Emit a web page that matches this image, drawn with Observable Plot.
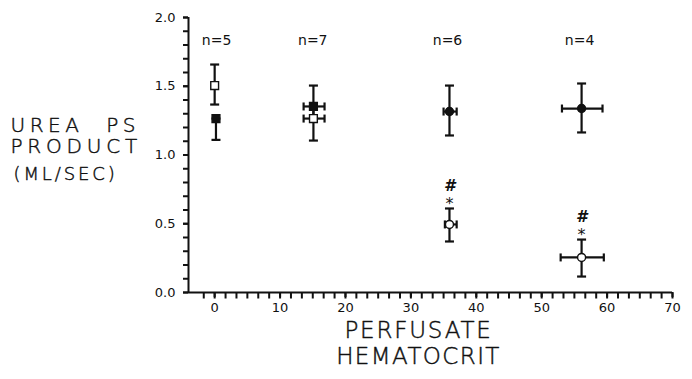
<!DOCTYPE html>
<html>
<head>
<meta charset="utf-8">
<script src="https://cdn.jsdelivr.net/npm/d3@7"></script>
<script src="https://cdn.jsdelivr.net/npm/@observablehq/plot@0.6"></script>
<style>
  html, body { margin: 0; padding: 0; background: #fff; }
  #chart svg { display: block; }
</style>
</head>
<body>
<div id="chart"></div>
<script>
// ---- data ----
const hct      = [0,     0.2,   15.1,  15.1,  35.9,  35.9,  56.1,  56.1];
const hctLow   = [0,     0.2,   13.6,  13.6,  35.0,  35.2,  53.1,  52.9];
const hctHigh  = [0,     0.2,   16.8,  16.8,  37.0,  37.0,  59.3,  59.5];
const ps       = [1.505, 1.265, 1.353, 1.265, 1.316, 0.495, 1.338, 0.255];
const psLow    = [1.367, 1.11,  1.265, 1.105, 1.142, 0.371, 1.164, 0.116];
const psHigh   = [1.658, 1.265, 1.505, 1.353, 1.505, 0.611, 1.52,  0.385];
const filled   = [false, true,  true,  false, true,  false, true,  false];
const shape    = ["square","square","square","square","circle","circle","circle","circle"];
const signif   = [false, false, false, false, false, true,  false, true];

const groupHct  = [0.3, 15, 35.6, 55.8];
const groupN    = ["n=5", "n=7", "n=6", "n=4"];

const xMajorTicks = [0, 10, 20, 30, 40, 50, 60, 70];
const yMajorTicks = [0, 0.5, 1.0, 1.5, 2.0];
const yTitle = ["UREA PS", "PRODUCT", "(ML/SEC)"];
const xTitle = ["PERFUSATE", "HEMATOCRIT"];

const rows = hct.map((x, i) => ({
  x, xlo: hctLow[i], xhi: hctHigh[i],
  y: ps[i], ylo: psLow[i], yhi: psHigh[i],
  filled: filled[i], shape: shape[i], sig: signif[i]
}));
const groups = groupHct.map((x, i) => ({x, label: groupN[i]}));

const xMinor = d3.range(-10/6, 70.001, 10/6);
const yMinor = d3.range(0, 2.0001, 0.1);

const hCap = {draw(ctx, size) { const r = Math.sqrt(size / Math.PI); ctx.moveTo(-r, 0); ctx.lineTo(r, 0); }};
const vCap = {draw(ctx, size) { const r = Math.sqrt(size / Math.PI); ctx.moveTo(0, -r); ctx.lineTo(0, r); }};

const ink = "#111";
const lightFont = "'DejaVu Sans ExtraLight', 'DejaVu Sans', sans-serif";
const sw = 2.2;
const titleStyle = {fill: ink, stroke: ink, strokeWidth: 0.45, fontFamily: lightFont, fontWeight: 200, lineAnchor: "middle"};

const hbars = rows.filter(d => d.xhi > d.xlo);

const chart = Plot.plot({
  width: 692,
  height: 379,
  marginLeft: 188,
  marginRight: 20,
  marginTop: 17,
  marginBottom: 87,
  style: {fontFamily: "'DejaVu Sans', sans-serif", fontSize: "13px", color: ink, background: "#fff"},
  x: {type: "linear", domain: [-4, 70], axis: null},
  y: {type: "linear", domain: [0, 2], axis: null},
  marks: [
    // axes
    Plot.ruleX([-4], {stroke: ink, strokeWidth: 2}),
    Plot.ruleY([0], {stroke: ink, strokeWidth: 2}),
    Plot.dot(xMinor, {x: d => d, frameAnchor: "bottom", dy: 3, symbol: vCap, r: 3, stroke: ink, strokeWidth: 2, fill: "none"}),
    Plot.axisX({ticks: xMajorTicks, anchor: "bottom", tickSize: 5, tickPadding: 5, strokeWidth: 2, stroke: ink, fill: ink, fontSize: 13, tickFormat: d3.format("d")}),
    Plot.axisY({ticks: yMinor, anchor: "left", tickSize: 5, text: null, strokeWidth: 2, stroke: ink}),
    Plot.axisY({ticks: yMajorTicks, anchor: "left", tickSize: 5, tickPadding: 8, strokeWidth: 2, stroke: ink, fill: ink, fontSize: 13, tickFormat: d3.format(".1f")}),

    // vertical error bars + caps
    Plot.ruleX(rows, {x: "x", y1: "ylo", y2: "yhi", stroke: ink, strokeWidth: sw}),
    Plot.dot(rows, {x: "x", y: "ylo", symbol: hCap, r: 4.5, stroke: ink, strokeWidth: sw, fill: "none"}),
    Plot.dot(rows, {x: "x", y: "yhi", symbol: hCap, r: 4.5, stroke: ink, strokeWidth: sw, fill: "none"}),
    // horizontal error bars + caps
    Plot.ruleY(hbars, {y: "y", x1: "xlo", x2: "xhi", stroke: ink, strokeWidth: sw}),
    Plot.dot(hbars, {x: "xlo", y: "y", symbol: vCap, r: 4, stroke: ink, strokeWidth: sw, fill: "none"}),
    Plot.dot(hbars, {x: "xhi", y: "y", symbol: vCap, r: 4, stroke: ink, strokeWidth: sw, fill: "none"}),

    // markers
    Plot.dot(rows.filter(d => d.shape === "square"), {x: "x", y: "y", symbol: "square", r: 4.4,
      fill: d => d.filled ? ink : "#fff", stroke: ink, strokeWidth: 1.4}),
    Plot.dot(rows.filter(d => d.shape === "circle"), {x: "x", y: "y", symbol: "circle", r: 4,
      fill: d => d.filled ? ink : "#fff", stroke: ink, strokeWidth: 1.4}),

    // significance marks
    Plot.text(rows.filter(d => d.sig), {x: "x", y: "yhi", text: () => "*", dy: -5, fontSize: 16, fill: ink, fontFamily: "'DejaVu Sans', sans-serif"}),
    Plot.text(rows.filter(d => d.sig), {x: "x", y: "yhi", text: () => "#", dy: -23, fontSize: 16, fontWeight: "bold", fontStyle: "italic", fill: ink, fontFamily: "'DejaVu Sans', sans-serif"}),

    // n labels
    Plot.text(groups, {x: "x", text: "label", frameAnchor: "top", lineAnchor: "middle", dy: 23, fontSize: 14, fill: ink, fontFamily: "'DejaVu Sans', sans-serif"}),

    // y title
    Plot.text([yTitle[0]], {...titleStyle, text: d => d, frameAnchor: "left", textAnchor: "start", dx: -178, dy: -29, fontSize: 20}),
    Plot.text([yTitle[1]], {...titleStyle, text: d => d, frameAnchor: "left", textAnchor: "start", dx: -178, dy: -8, fontSize: 20}),
    Plot.text([yTitle[2]], {...titleStyle, text: d => d, frameAnchor: "left", textAnchor: "start", dx: -175, dy: 19, fontSize: 18}),

    // x title
    Plot.text([xTitle[0]], {...titleStyle, text: d => d, frameAnchor: "bottom", dx: -12, dy: 38, fontSize: 23}),
    Plot.text([xTitle[1]], {...titleStyle, text: d => d, frameAnchor: "bottom", dx: -12, dy: 64, fontSize: 23})
  ]
});

// letter spacing for the plotter-style titles
const spacing = {"UREA PS": ["4.5px", "12px"], "PRODUCT": ["4.8px", null], "(ML/SEC)": ["2.9px", null],
                 "PERFUSATE": ["1.8px", null], "HEMATOCRIT": ["1.4px", null]};
d3.select(chart).selectAll("text").each(function() {
  const s = spacing[this.textContent];
  if (s) {
    this.setAttribute("letter-spacing", s[0]);
    if (s[1]) this.setAttribute("word-spacing", s[1]);
  }
});
document.getElementById("chart").appendChild(chart);
</script>
</body>
</html>
